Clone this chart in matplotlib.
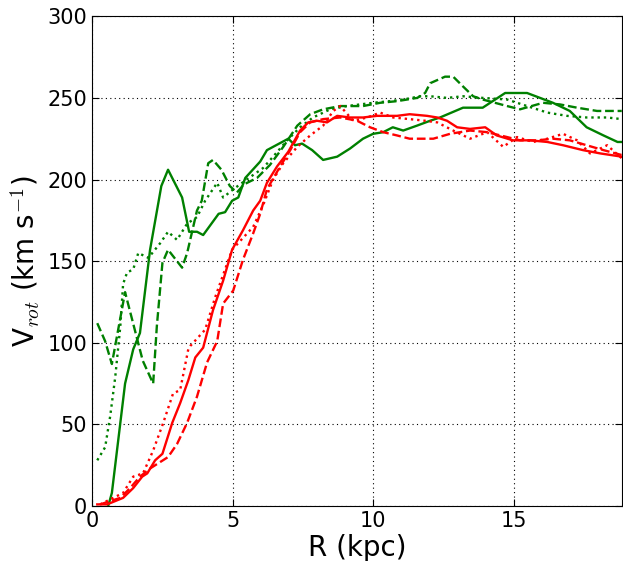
import matplotlib
matplotlib.use('Agg')
import matplotlib.pyplot as plt

plt.rcParams['mathtext.fontset'] = 'cm'

# green solid
g1_r = [0.57, 0.7, 1.17, 1.46, 1.7, 2.06, 2.46, 2.7, 3.2, 3.45, 3.73, 3.95, 4.5, 4.73, 4.98, 5.2, 5.45,
        5.98, 6.22, 6.98, 7.22, 7.47, 7.83, 8.22, 8.72, 9.18, 9.64, 10.0, 10.36, 10.7, 11.07, 11.56,
        12.03, 12.38, 13.2, 13.9, 14.7, 15.48, 16.4, 17.0, 17.6, 18.2, 18.7, 18.85]
g1_v = [0, 8, 75, 96, 106, 157, 196, 206, 189, 168, 168, 166, 179, 180, 187, 189, 201,
        211, 218, 225, 221, 222, 218, 212, 214, 219, 225, 228, 229, 232, 230, 233,
        236, 238, 244, 244, 253, 253, 247, 242, 232, 227, 223, 223]

# green dashed
g2_r = [0.18, 0.46, 0.7, 1.17, 1.8, 2.17, 2.3, 2.5, 2.7, 3.2, 3.38, 3.73, 3.9, 4.13, 4.3, 4.6, 4.9,
        5.15, 5.4, 5.87, 6.33, 6.8, 7.3, 7.76, 8.22, 8.83, 9.64, 10.25, 10.85, 11.57, 11.85, 12.03,
        12.56, 12.85, 13.2, 13.56, 13.9, 14.77, 15.23, 16.05, 16.65, 17.26, 17.97, 18.85]
g2_v = [112, 101, 87, 131, 89, 75, 110, 149, 157, 146, 155, 181, 187, 210, 212, 206, 196,
        192, 197, 201, 209, 220, 233, 240, 243, 245, 245, 247, 248, 250, 253, 259,
        263, 263, 257, 251, 249, 245, 243, 247, 246, 244, 242, 242]

# green dotted
g3_r = [0.18, 0.46, 0.64, 0.82, 1.0, 1.1, 1.24, 1.46, 1.64, 2.0, 2.42, 2.7, 3.02, 3.38, 3.73, 4.02,
        4.45, 4.66, 5.02, 5.5, 6.08, 6.44, 6.94, 7.4, 7.86, 8.47, 9.07, 10.0, 10.6, 11.07, 11.67,
        12.03, 12.63, 13.2, 13.9, 14.77, 15.48, 16.2, 16.9, 17.6, 18.33, 18.85]
g3_v = [28, 36, 55, 79, 110, 136, 143, 145, 155, 152, 161, 168, 163, 173, 177, 187,
        198, 189, 194, 200, 207, 214, 224, 232, 238, 243, 245, 247, 248, 249, 251,
        251, 250, 251, 250, 249, 245, 241, 239, 238, 238, 237]

# red solid
r1_r = [0.18, 0.53, 1.1, 1.46, 1.78, 1.96, 2.24, 2.5, 2.85, 3.13, 3.42, 3.67, 3.95, 4.3, 4.66, 4.98,
        5.37, 5.73, 5.98, 6.22, 6.58, 6.98, 7.4, 7.69, 8.0, 8.36, 8.72, 9.18, 9.64, 10.14, 10.85,
        11.3, 11.92, 12.28, 12.63, 12.99, 13.45, 13.99, 14.4, 14.98, 15.59, 16.2, 16.76, 17.47,
        18.08, 18.85]
r1_v = [1, 1, 5, 11, 18, 20, 28, 32, 51, 63, 77, 91, 97, 120, 138, 157,
        169, 181, 187, 198, 208, 217, 230, 235, 236, 235, 239, 238, 238, 239, 239,
        240, 239, 238, 236, 232, 231, 232, 227, 224, 224, 223, 221, 218,
        216, 214]

# red dashed
r2_r = [0.28, 1.0, 1.35, 1.7, 2.06, 2.7, 3.02, 3.38, 3.73, 4.09, 4.45, 4.66, 5.02, 5.37, 5.73, 5.98,
        6.22, 6.69, 7.05, 7.4, 7.76, 8.22, 8.83, 9.43, 9.89, 10.36, 10.85, 11.3, 11.78, 12.14,
        12.74, 13.45, 14.06, 14.77, 15.23, 15.84, 16.4, 17.0, 17.6, 18.2, 18.85]
r2_v = [1, 5, 11, 18, 23, 30, 38, 51, 67, 88, 101, 124, 132, 151, 167, 179,
        194, 208, 218, 229, 235, 237, 238, 236, 232, 229, 227, 225, 225, 225,
        228, 230, 229, 226, 224, 224, 225, 224, 221, 218, 215]

# red dotted
r3_r = [0.28, 1.1, 1.46, 1.81, 2.17, 2.53, 2.88, 3.13, 3.42, 3.49, 4.02, 4.38, 4.73, 4.98, 5.73,
        6.1, 6.44, 6.8, 7.3, 7.76, 8.22, 8.58, 8.83, 9.29, 9.79, 10.25, 10.71, 11.3, 11.85, 12.28,
        12.85, 13.45, 14.06, 14.63, 15.12, 15.7, 16.2, 16.76, 17.26, 17.72, 18.33, 18.85]
r3_v = [1, 8, 18, 20, 34, 51, 69, 71, 96, 98, 108, 128, 145, 157, 171,
        185, 200, 210, 220, 227, 233, 242, 245, 236, 238, 241, 238, 237, 236, 235,
        230, 225, 229, 220, 226, 223, 225, 228, 224, 216, 221, 213]

fig = plt.figure(figsize=(6.23, 5.61), dpi=100)
ax = fig.add_axes([0.148, 0.098, 0.850, 0.873])

ax.plot(g1_r, g1_v, color='green', ls='-', lw=1.7)
ax.plot(g2_r, g2_v, color='green', ls='--', lw=1.7)
ax.plot(g3_r, g3_v, color='green', ls=':', lw=1.7)
ax.plot(r1_r, r1_v, color='red', ls='-', lw=1.7)
ax.plot(r2_r, r2_v, color='red', ls='--', lw=1.7)
ax.plot(r3_r, r3_v, color='red', ls=':', lw=1.7)

ax.set_xlim(0, 18.85)
ax.set_ylim(0, 300)
ax.set_xticks([0, 5, 10, 15])
ax.set_yticks([0, 50, 100, 150, 200, 250, 300])
ax.grid(True, color='black', ls=(0, (1, 3)), lw=0.8)
ax.tick_params(direction='in', top=True, right=True, labelsize=15, length=5)
ax.set_xlabel('R (kpc)', fontsize=20, labelpad=2)
ax.set_ylabel(r'V$_{rot}$ (km s$^{-1}$)', fontsize=20)

plt.savefig('out.png', dpi=100)
